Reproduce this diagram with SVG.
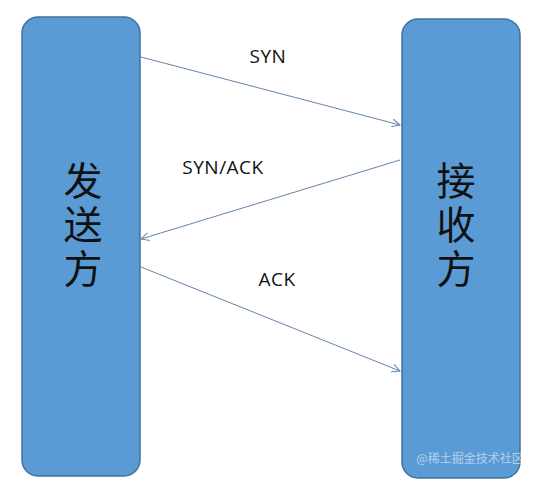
<svg xmlns="http://www.w3.org/2000/svg" width="535" height="479" viewBox="0 0 535 479">
<style>
.box{fill:#5b9bd5;stroke:#41719c;stroke-width:1.5}
.cjk{font-family:"Noto Sans CJK SC","Noto Sans",sans-serif;font-size:39px;fill:#111;writing-mode:vertical-rl;text-orientation:upright;letter-spacing:5px}
.lbl{font-family:"Open Sans","Liberation Sans",sans-serif;font-size:19px;letter-spacing:0.5px;fill:#111;text-anchor:middle}
.arr{stroke:#6585a8;stroke-width:1;fill:none;marker-end:url(#ah)}
</style>
<defs>
<marker id="ah" viewBox="0 0 10 10" refX="9" refY="5" markerWidth="10" markerHeight="10" markerUnits="userSpaceOnUse" orient="auto">
<path d="M1,1 L9,5 L1,9" fill="none" stroke="#6585a8" stroke-width="1"/>
</marker>
</defs>
<rect width="535" height="479" fill="#fff"/>
<g id="sender">
<rect class="box" x="22" y="17" width="118" height="459" rx="16"/>
<text class="cjk" x="83" y="161">发送方</text>
</g>
<g id="receiver">
<rect class="box" x="402" y="19" width="118" height="459" rx="16"/>
<text class="cjk" x="456" y="161">接收方</text>
<text x="470" y="463" font-family="Noto Sans CJK SC,sans-serif" font-size="12" fill="#fff" fill-opacity="0.55" text-anchor="middle">@稀土掘金技术社区</text>
</g>
<g id="connectors">
<line class="arr" x1="141" y1="57" x2="400" y2="125"/>
<line class="arr" x1="400" y1="160" x2="141" y2="239"/>
<line class="arr" x1="141" y1="267" x2="400" y2="371"/>
<text class="lbl" x="268" y="63">SYN</text>
<text class="lbl" x="223" y="174">SYN/ACK</text>
<text class="lbl" x="277" y="286">ACK</text>
</g>
</svg>
